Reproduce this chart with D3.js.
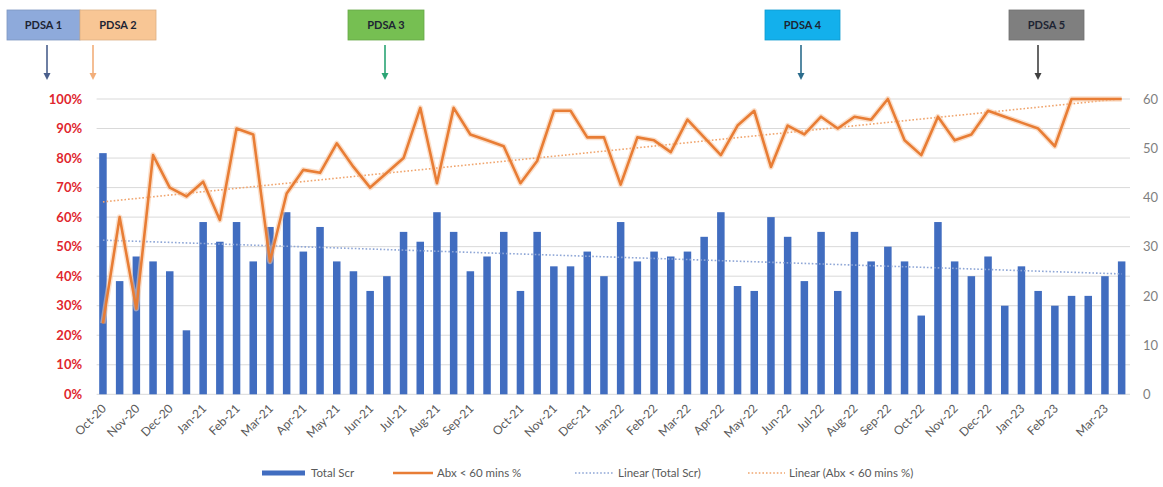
<!DOCTYPE html>
<html>
<head>
<meta charset="utf-8">
<script src="https://cdn.jsdelivr.net/npm/d3@7"></script>
<style>
  html, body { margin: 0; padding: 0; background: #ffffff; }
  svg { display: block; font-family: "Lato", "Liberation Sans", sans-serif; }
</style>
</head>
<body>
<svg id="chart" width="1163" height="487"></svg>
<script>
// Fortnightly screening periods, tagged with the month they fall in
const categories = [
  "Oct-20","Oct-20","Nov-20","Nov-20","Dec-20","Dec-20","Jan-21","Jan-21",
  "Feb-21","Feb-21","Mar-21","Mar-21","Apr-21","Apr-21","May-21","May-21",
  "Jun-21","Jun-21","Jul-21","Jul-21","Aug-21","Aug-21","Sep-21","Sep-21","Sep-21",
  "Oct-21","Oct-21","Nov-21","Nov-21","Dec-21","Dec-21","Jan-22","Jan-22",
  "Feb-22","Feb-22","Mar-22","Mar-22","Apr-22","Apr-22","May-22","May-22",
  "Jun-22","Jun-22","Jul-22","Jul-22","Aug-22","Aug-22","Sep-22","Sep-22",
  "Oct-22","Oct-22","Nov-22","Nov-22","Dec-22","Dec-22","Jan-23","Jan-23",
  "Feb-23","Feb-23","Feb-23","Mar-23","Mar-23"
];

// Total screened per period (right axis)
const totalScr = [
  49,23,28,27,25,13,35,31,35,27,34,37,29,34,27,25,
  21,24,33,31,37,33,25,28,33,21,33,26,26,29,24,
  35,27,29,28,29,32,37,22,21,36,32,23,33,21,33,
  27,30,27,16,35,27,24,28,18,26,21,18,20,20,24,27
];

// Percentage given antibiotics within 60 minutes (left axis)
const abxPct = [
  24,60,29,81,70,67,72,59,90,88,45,68,76,75,85,77,
  70,75,80,97,71.5,97,88,86,84,71.5,79,96,96,87,87,
  71,87,86,82,93,87,81,91,96,77,91,88,94,90,94,
  93,100,86,81,94,86,88,96,94,92,90,84,100,100,100,100
];

const leftTicks = [0,0.1,0.2,0.3,0.4,0.5,0.6,0.7,0.8,0.9,1];
const rightTicks = [0,10,20,30,40,50,60];

// Improvement cycles
const pdsaLabels = ["PDSA 1","PDSA 2","PDSA 3","PDSA 4","PDSA 5"];
const pdsaFill   = ["#8eaadb","#f8c695","#76bf52","#13b0ec","#7f7f7f"];
const pdsaArrow  = ["#4a5f8c","#f2ae7a","#2aa474","#2b6c8c","#404040"];

const legendLabels = ["Total Scr","Abx < 60 mins %","Linear (Total Scr)","Linear (Abx < 60 mins %)"];

const svg = d3.select("#chart");
const W = 1163, H = 487;
const plot = { left: 94.6, right: 1130, top: 99, bottom: 394.3 };

const idx = d3.range(totalScr.length);
const x = d3.scaleBand().domain(idx).range([plot.left, plot.right])
  .paddingInner(0.55).paddingOuter(0.275);
const cx = i => x(i) + x.bandwidth() / 2;
const yL = d3.scaleLinear().domain([0, 1]).range([plot.bottom, plot.top]);
const yR = d3.scaleLinear().domain([0, 60]).range([plot.bottom, plot.top]);

svg.append("rect").attr("width", W).attr("height", H).attr("fill", "#fff");

// Horizontal gridlines
svg.append("g").selectAll("line").data(leftTicks).join("line")
  .attr("x1", plot.left + 2).attr("x2", plot.right)
  .attr("y1", d => yL(d)).attr("y2", d => yL(d))
  .attr("stroke", "#d9d9d9").attr("stroke-width", 1);

// Left axis (percent)
const gL = svg.append("g").attr("transform", `translate(${plot.left},0)`)
  .call(d3.axisLeft(yL).tickValues(leftTicks).tickFormat(d3.format(".0%")).tickSize(0).tickPadding(12.5));
gL.select(".domain").remove();
gL.selectAll("text").attr("fill", "#e0262e").attr("font-weight", "700")
  .attr("font-size", 13).attr("font-family", "Lato, sans-serif");

// Right axis (count)
const gR = svg.append("g").attr("transform", `translate(${plot.right},0)`)
  .call(d3.axisRight(yR).tickValues(rightTicks).tickSize(0).tickPadding(13));
gR.select(".domain").remove();
gR.selectAll("text").attr("fill", "#7f7f7f").attr("font-size", 13)
  .attr("font-family", "Lato, sans-serif");

// Bars
svg.append("g").selectAll("rect").data(totalScr).join("rect")
  .attr("x", (d, i) => x(i)).attr("width", x.bandwidth())
  .attr("y", d => yR(d)).attr("height", d => yR(0) - yR(d))
  .attr("fill", "#416dc0");

// Least-squares trendlines over the period index
function linearFit(vals) {
  const n = vals.length;
  const mx = d3.mean(idx), my = d3.mean(vals);
  let sxy = 0, sxx = 0;
  vals.forEach((v, i) => { sxy += (i - mx) * (v - my); sxx += (i - mx) * (i - mx); });
  const b = sxy / sxx, a = my - b * mx;
  return [[0, a], [n - 1, a + b * (n - 1)]];
}
const trendScr = linearFit(totalScr);
const trendAbx = linearFit(abxPct);

svg.append("line")
  .attr("x1", cx(trendScr[0][0])).attr("y1", yR(trendScr[0][1]))
  .attr("x2", cx(trendScr[1][0])).attr("y2", yR(trendScr[1][1]))
  .attr("stroke", "#8ea6d6").attr("stroke-width", 1.6).attr("stroke-dasharray", "1.6,2");

svg.append("line")
  .attr("x1", cx(trendAbx[0][0])).attr("y1", yL(trendAbx[0][1] / 100))
  .attr("x2", cx(trendAbx[1][0])).attr("y2", yL(trendAbx[1][1] / 100))
  .attr("stroke", "#f0a56e").attr("stroke-width", 1.6).attr("stroke-dasharray", "1.6,2");

// Abx line
const line = d3.line().x((d, i) => cx(i)).y(d => yL(d / 100));
svg.append("path").datum(abxPct).attr("d", line)
  .attr("fill", "none").attr("stroke", "#f7c7a3").attr("stroke-width", 5.5)
  .attr("stroke-linejoin", "round").attr("opacity", 0.55);
svg.append("path").datum(abxPct).attr("d", line)
  .attr("fill", "none").attr("stroke", "#e87d35").attr("stroke-width", 2.6)
  .attr("stroke-linejoin", "round");

// Category axis: one label at the first period of each month
const gX = svg.append("g").attr("transform", `translate(0,${plot.bottom})`)
  .call(d3.axisBottom(x).tickSize(0)
    .tickFormat(i => (i === 0 || categories[i] !== categories[i - 1]) ? categories[i] : ""));
gX.select(".domain").remove();
gX.selectAll("text")
  .attr("fill", "#595959").attr("font-size", 12).attr("font-family", "Lato, sans-serif")
  .attr("text-anchor", "end").attr("dy", null).attr("y", 0)
  .attr("transform", "translate(4,15) rotate(-45)");

// PDSA markers
const boxes = [
  { x0: 7, x1: 80 }, { x0: 80, x1: 156 }, { x0: 348, x1: 424 },
  { x0: 765, x1: 840 }, { x0: 1009, x1: 1084 }
];
const arrowX = [47, 93, 385, 801, 1038];
const gP = svg.append("g");
pdsaLabels.forEach((lab, k) => {
  const b = boxes[k];
  gP.append("rect").attr("x", b.x0).attr("y", 10).attr("width", b.x1 - b.x0).attr("height", 30)
    .attr("fill", pdsaFill[k]).attr("stroke", d3.color(pdsaFill[k]).darker(0.35)).attr("stroke-width", 0.8);
  gP.append("text").attr("x", (b.x0 + b.x1) / 2).attr("y", 25).attr("dy", "0.35em")
    .attr("text-anchor", "middle").attr("font-size", 11).attr("font-weight", "700")
    .attr("fill", "#1d2433").text(lab);
  const ax = arrowX[k];
  gP.append("line").attr("x1", ax).attr("x2", ax).attr("y1", 45).attr("y2", 75)
    .attr("stroke", pdsaArrow[k]).attr("stroke-width", 1.6);
  gP.append("path").attr("d", `M${ax - 3.5},73 L${ax + 3.5},73 L${ax},80 Z`).attr("fill", pdsaArrow[k]);
});

// Legend
const lg = svg.append("g").attr("font-size", 11.5).attr("fill", "#595959");
const ly = 473;
lg.append("rect").attr("x", 262).attr("y", ly - 2.5).attr("width", 43).attr("height", 5).attr("fill", "#416dc0");
lg.append("text").attr("x", 311).attr("y", ly).attr("dy", "0.35em").text(legendLabels[0]);
lg.append("line").attr("x1", 393).attr("x2", 433).attr("y1", ly).attr("y2", ly)
  .attr("stroke", "#e87d35").attr("stroke-width", 2.6);
lg.append("text").attr("x", 437).attr("y", ly).attr("dy", "0.35em").text(legendLabels[1]);
lg.append("line").attr("x1", 575).attr("x2", 614).attr("y1", ly).attr("y2", ly)
  .attr("stroke", "#8ea6d6").attr("stroke-width", 1.6).attr("stroke-dasharray", "1.6,2");
lg.append("text").attr("x", 618).attr("y", ly).attr("dy", "0.35em").text(legendLabels[2]);
lg.append("line").attr("x1", 748).attr("x2", 785).attr("y1", ly).attr("y2", ly)
  .attr("stroke", "#f0a56e").attr("stroke-width", 1.6).attr("stroke-dasharray", "1.6,2");
lg.append("text").attr("x", 789).attr("y", ly).attr("dy", "0.35em").text(legendLabels[3]);
</script>
</body>
</html>
